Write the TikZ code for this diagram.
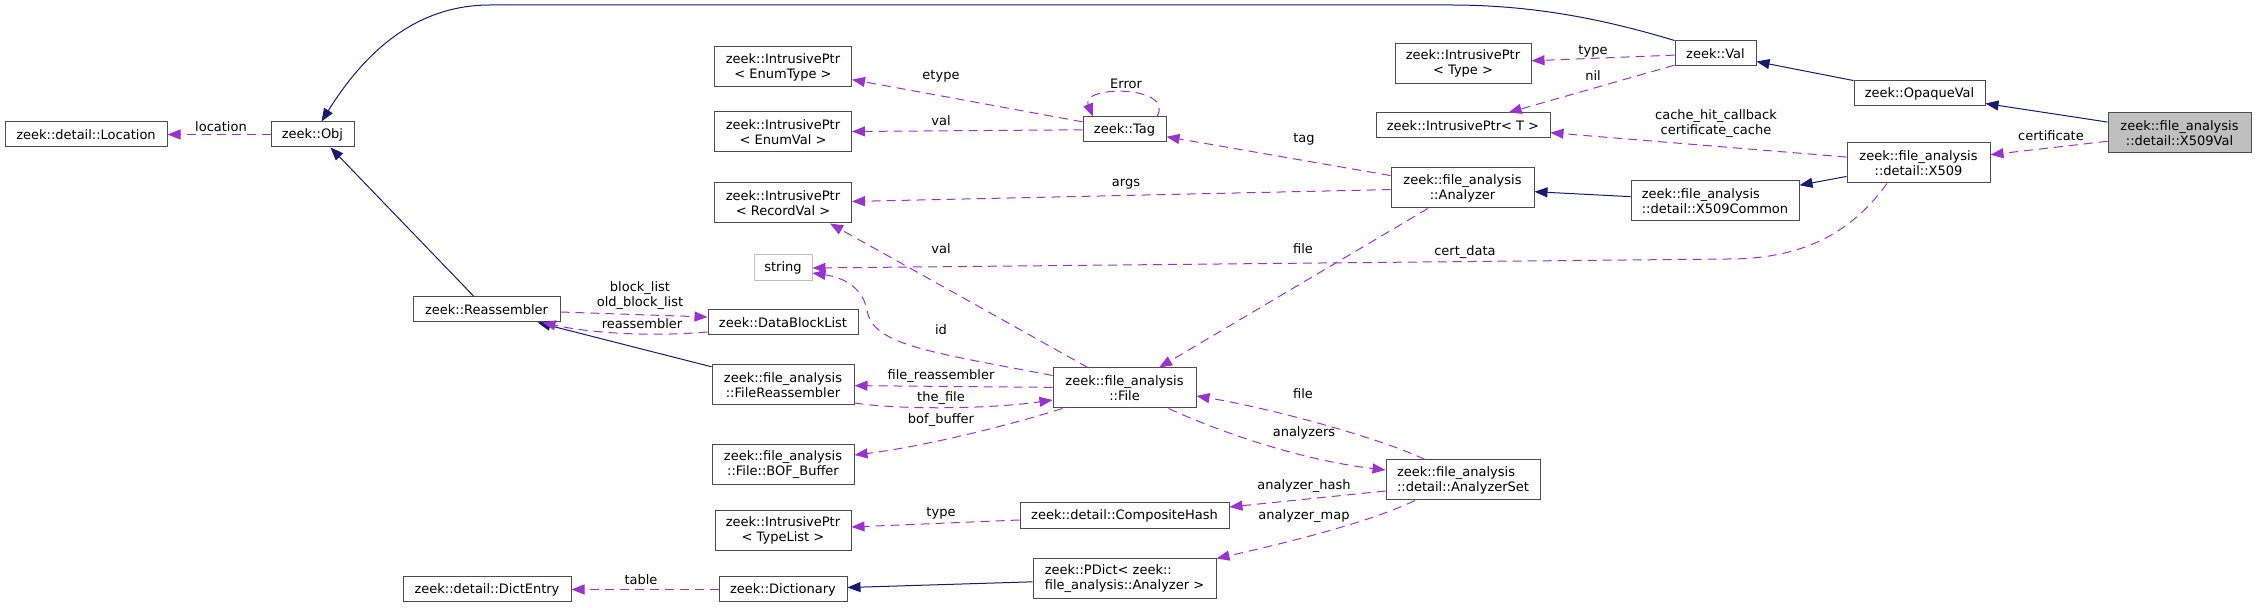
\documentclass[tikz,border=0pt]{standalone}
\usepackage{fontspec}
\setmainfont{DejaVu Sans}
\usetikzlibrary{arrows.meta,calc}

\definecolor{usecol}{HTML}{9A32CD}
\definecolor{inhcol}{HTML}{191970}
\definecolor{boxcol}{HTML}{4D4D4D}
\definecolor{curcol}{HTML}{BFBFBF}

\begin{document}
\begin{tikzpicture}[
  x=0.5pt, y=-0.5pt,
  font=\fontsize{6.5}{7.5}\selectfont,
  box/.style={draw=boxcol, fill=white, line width=0.5pt, align=center, inner sep=0pt, minimum width=#1, minimum height=12.5pt},
  box/.default=70pt,
  two/.style={minimum height=20pt},
  inh/.style={draw=inhcol, line width=0.5pt, -{Triangle[length=6.5pt,width=5pt]}},
  usage/.style={draw=usecol, line width=0.5pt, dash pattern=on 4.5pt off 3pt, -{Triangle[length=6.5pt,width=5pt]}},
  lbl/.style={inner sep=0pt, align=center},
]
\path[use as bounding box, fill=white] (0,0) rectangle (2256,608);

% Left columns
\node[box=81pt] (loc) at (86,134.5) {zeek::detail::Location};
\node[box=41.5pt] (obj) at (312.5,134.5) {zeek::Obj};
\node[box=73.5pt] (reasm) at (486.5,309.5) {zeek::Reassembler};
\node[box=84pt] (dent) at (487,589.5) {zeek::detail::DictEntry};

% Pointer column
\node[box=68.5pt, two] (ipet) at (783,67) {zeek::IntrusivePtr\\< EnumType >};
\node[box=68.5pt, two] (ipev) at (783,132) {zeek::IntrusivePtr\\< EnumVal >};
\node[box=68.5pt, two] (iprv) at (783,203) {zeek::IntrusivePtr\\< RecordVal >};
\node[box=29pt, draw=curcol, minimum height=13pt] (str) at (783,268) {string};
\node[box=75pt] (dbl) at (783,322.5) {zeek::DataBlockList};
\node[box=71pt, two] (freasm) at (783,385) {zeek::file\_analysis\\::FileReassembler};
\node[box=71pt, two] (bof) at (783,465) {zeek::file\_analysis\\::File::BOF\_Buffer};
\node[box=68pt, two] (iptl) at (783,530.5) {zeek::IntrusivePtr\\< TypeList >};
\node[box=64pt] (dict) at (783,589.5) {zeek::Dictionary};

% Middle column
\node[box=41.5pt] (tag) at (1124.5,129.5) {zeek::Tag};
\node[box=71.5pt, two] (file) at (1124.5,388) {zeek::file\_analysis\\::File};
\node[box=104.5pt, minimum height=13pt] (chash) at (1124.5,516) {zeek::detail::CompositeHash};
\node[box=91.5pt, two, align=left] (pdict) at (1124.5,579) {zeek::PDict< zeek::\\file\_analysis::Analyzer >};

% Analyzer column
\node[box=68pt, two] (iptype) at (1463,63.5) {zeek::IntrusivePtr\\< Type >};
\node[box=87pt] (ipt) at (1463,125.5) {zeek::IntrusivePtr< T >};
\node[box=71.5pt, two] (anl) at (1462.5,188) {zeek::file\_analysis\\::Analyzer};
\node[box=77pt, two, align=left] (aset) at (1463,480) {zeek::file\_analysis\\::detail::AnalyzerSet};

% Right columns
\node[box=40.5pt] (val) at (1715.5,53.5) {zeek::Val};
\node[box=84pt, two, align=left] (x509c) at (1715,201) {zeek::file\_analysis\\::detail::X509Common};
\node[box=65.5pt] (opq) at (1919.5,93.5) {zeek::OpaqueVal};
\node[box=71.5pt, two] (x509) at (1918.5,163) {zeek::file\_analysis\\::detail::X509};
\node[box=71.5pt, two, fill=curcol] (x509val) at (2179.5,133) {zeek::file\_analysis\\::detail::X509Val};

% Inheritance
\draw[inh] (x509val) -- (opq);
\draw[inh] (opq) -- (val);
\draw[inh] (val.north west) .. controls (1600,18) and (1530,5) .. (1450,5) -- (490,5) .. controls (410,5) and (360,60) .. ([xshift=4.5pt]obj.north);
\draw[inh] (reasm) -- ([xshift=9pt]obj.south);
\draw[inh] (freasm) -- (reasm);
\draw[inh] (x509) -- (x509c);
\draw[inh] (x509c) -- (anl);
\draw[inh] (pdict) -- (dict);

% Members
\draw[usage] (obj) -- (loc);
\draw[usage] (val) -- (iptype);
\draw[usage] (val) -- (ipt);
\draw[usage] (x509) -- (ipt);
\draw[usage] (x509val) -- (x509);
\draw[usage] ([xshift=-15.75pt]x509.south) .. controls (1850,235) and (1800,259) .. (1728,259) -- (str.east);
\draw[usage] (tag) -- (ipet);
\draw[usage] ([xshift=16.25pt]tag.north) .. controls (1175,85) and (1080,85) .. ([xshift=-15.75pt]tag.north);
\draw[usage] (tag) -- (ipev);
\draw[usage] (anl) -- (tag);
\draw[usage] (anl) -- (iprv);
\draw[usage] (anl) -- (file);
\draw[usage] (file) -- ([xshift=23.5pt]iprv.south);
\draw[usage] ([yshift=-4pt]file.north west) .. controls (930,352) and (872,345) .. (867,310) .. controls (862,285) and (840,277) .. ([yshift=-2.5pt]str.east);
\draw[usage] (reasm) -- ([yshift=2.75pt]dbl.west);
\draw[usage] ([yshift=-4.75pt]dbl.west) .. controls (650,337) and (590,333) .. ([xshift=28pt]reasm.south);
\draw[usage] (file) -- (freasm);
\draw[usage] ([yshift=-9pt]freasm.east) .. controls (900,410) and (990,409) .. ([yshift=-6pt]file.west);
\draw[usage] ([xshift=5pt]file.south west) .. controls (1000,428) and (920,447) .. ([yshift=5pt]bof.east);
\draw[usage] ([xshift=-19pt]aset.north) .. controls (1380,438) and (1270,408) .. ([yshift=-4pt]file.east);
\draw[usage] ([xshift=-14pt]file.south east) .. controls (1220,432) and (1300,460) .. ([yshift=5pt]aset.west);
\draw[usage] ([yshift=-5.5pt]aset.west) -- ([yshift=4.5pt]chash.east);
\draw[usage] ([xshift=-24pt]aset.south) .. controls (1370,522) and (1290,542) .. (pdict.north east);
\draw[usage] ([yshift=-2pt]chash.west) -- ([yshift=1.75pt]iptl.east);
\draw[usage] (dict) -- (dent);

% Edge labels
\node[lbl] (l-loc) at (221,127) {location};
\node[lbl] (l-type) at (1593,51) {type};
\node[lbl] (l-nil) at (1593,76) {nil};
\node[lbl] (l-cache) at (1716,123.5) {cache\_hit\_callback\\certificate\_cache};
\node[lbl] (l-cert) at (2051,136) {certificate};
\node[lbl] (l-cdata) at (1465,252) {cert\_data};
\node[lbl] (l-etype) at (941,76) {etype};
\node[lbl] (l-err) at (1126,84) {Error};
\node[lbl] (l-val) at (941,121) {val};
\node[lbl] (l-tag) at (1304,139) {tag};
\node[lbl] (l-args) at (1126,184) {args};
\node[lbl] (l-file) at (1303,249) {file};
\node[lbl] (l-val2) at (941,249) {val};
\node[lbl] (l-id) at (941,330) {id};
\node[lbl] (l-blk) at (640,296) {block\_list\\old\_block\_list};
\node[lbl] (l-reasm) at (642,324) {reassembler};
\node[lbl] (l-freasm) at (941,376) {file\_reassembler};
\node[lbl] (l-thefile) at (941,398) {the\_file};
\node[lbl] (l-bof) at (941,420) {bof\_buffer};
\node[lbl] (l-file2) at (1303,394) {file};
\node[lbl] (l-anls) at (1304,433) {analyzers};
\node[lbl] (l-hash) at (1304,486) {analyzer\_hash};
\node[lbl] (l-map) at (1304,516) {analyzer\_map};
\node[lbl] (l-type2) at (941,513) {type};
\node[lbl] (l-table) at (641,580) {table};
\end{tikzpicture}
\end{document}
